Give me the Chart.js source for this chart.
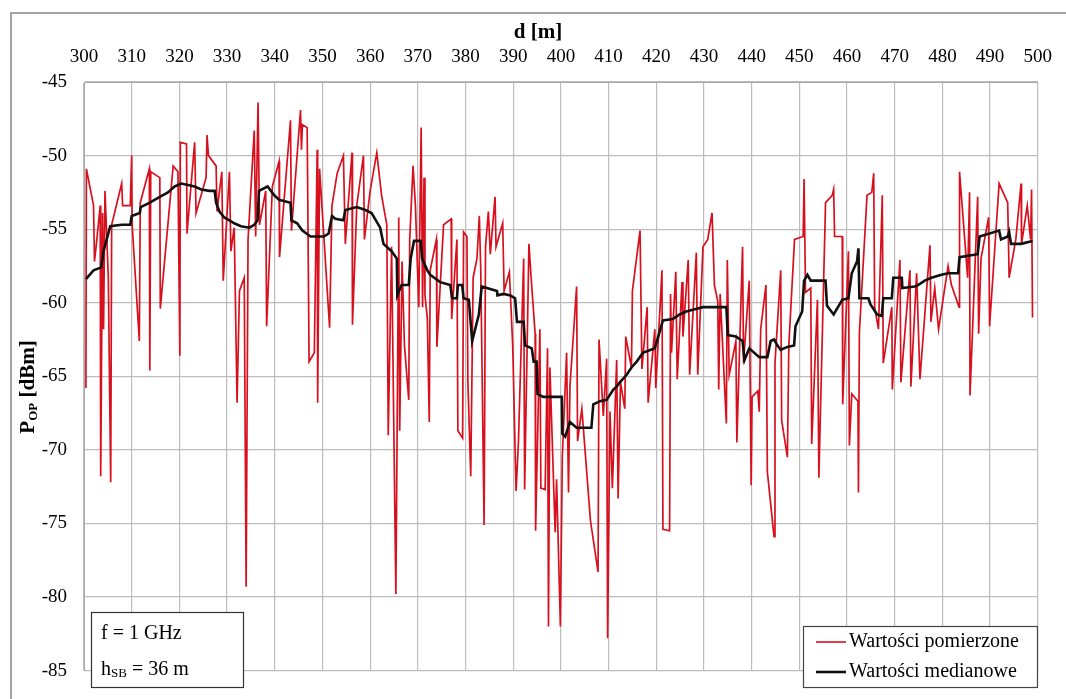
<!DOCTYPE html>
<html>
<head>
<meta charset="utf-8">
<script src="https://cdn.jsdelivr.net/npm/chart.js@4/dist/chart.umd.min.js"></script>
<style>
  html, body { margin: 0; padding: 0; background: #fff; }
  #wrap { position: relative; width: 1066px; height: 699px; overflow: hidden; }
  #frame { position: absolute; left: 10px; top: 12px; width: 1070px; height: 700px;
           border-left: 2px solid #a3a3a3; border-top: 2px solid #a3a3a3; }
  canvas { position: absolute; left: 0; top: 0; }
</style>
</head>
<body>
<div id="wrap">
  <div id="frame"></div>
  <canvas id="chart" width="1066" height="699"></canvas>
</div>
<script>
// measured values (distance d [m] / received power [dBm])
const measDist = [300.4,300.5,302.0,302.2,302.7,303.4,303.5,303.9,304.1,304.4,305.1,305.6,305.8,307.9,308.1,309.7,310.0,310.1,311.6,311.8,
  313.7,313.8,314.0,315.9,316.0,318.7,319.7,320.1,320.2,321.5,321.6,323.2,323.5,325.6,325.8,326.1,327.7,327.9,328.9,329.2,
  330.5,330.8,331.5,332.1,332.6,333.6,334.0,334.4,335.7,336.0,336.5,336.8,338.1,338.3,339.5,340.9,341.0,343.3,343.5,345.4,
  345.6,345.8,346.8,347.2,348.3,348.9,349.0,349.4,350.3,351.5,352.0,353.1,354.4,354.8,356.2,356.3,357.2,358.6,358.8,360.0,
  361.4,362.4,363.5,363.8,364.5,365.4,365.9,
  366.0,366.2,366.7,367.2,368.1,368.3,369.0,369.5,370.2,370.7,371.0,371.3,371.5,372.0,372.4,372.6,373.9,374.0,375.4,377.0,
  377.1,378.2,378.4,379.4,379.6,380.3,380.5,381.1,381.6,382.4,382.9,383.2,383.9,384.2,384.8,385.2,386.2,386.4,387.8,388.1,
  389.2,389.9,390.6,391.1,392.2,392.4,393.3,393.7,394.6,394.7,395.6,395.8,396.7,397.2,397.4,397.7,398.8,399.1,399.9,400.3,
  401.2,401.6,401.9,403.3,403.5,404.4,406.2,407.8,408.0,408.9,409.6,409.8,410.3,410.8,411.7,412.0,412.5,413.4,413.6,414.8,
  415.0,416.6,417.0,418.1,418.3,419.7,419.9,421.2,421.4,422.8,423.0,423.2,424.1,424.4,425.4,425.6,426.7,427.0,428.4,428.7,
  429.8,430.8,431.7,432.2,432.9,433.1,
  433.4,434.7,434.9,435.3,436.7,436.9,438.1,438.3,439.5,439.9,440.1,441.3,441.6,441.9,443.0,443.3,444.7,444.9,446.1,446.3,
  447.5,447.8,449.0,450.8,451.0,451.3,452.4,452.6,453.8,454.1,455.5,456.9,457.2,457.4,459.0,459.1,460.3,460.5,461.0,462.3,
  462.4,462.6,464.2,465.2,465.6,465.8,466.6,467.4,467.6,469.4,469.5,471.1,471.3,473.2,473.4,474.6,475.3,477.4,477.6,478.4,
  479.2,481.2,481.9,483.5,483.6,485.3,485.7,485.8,487.4,487.6,488.1,489.7,489.9,491.9,493.7,494.0,495.4,496.5,496.6,497.8,
  498.5,498.7,498.9];
const measPower = [-65.8,-50.9,-53.4,-57.2,-55.7,-53.4,-71.8,-53.9,-61.8,-52.4,-58.3,-72.2,-54.7,-51.9,-53.4,-53.4,-50.0,-54.7,-62.6,-53.2,
  -50.9,-64.6,-51.1,-51.5,-60.4,-50.7,-51.1,-63.6,-49.1,-49.2,-55.3,-49.1,-53.9,-51.5,-48.6,-50.0,-50.7,-53.8,-51.1,-58.5,
  -51.1,-56.5,-54.9,-66.8,-59.2,-58.3,-79.3,-55.7,-48.3,-55.5,-46.4,-54.7,-52.4,-61.6,-52.1,-50.4,-56.9,-47.6,-55.1,-46.9,
  -49.6,-47.9,-48.1,-64.0,-63.4,-49.6,-66.8,-50.9,-55.5,-61.7,-53.4,-51.2,-50.0,-56.0,-49.8,-61.5,-53.4,-50.0,-55.7,-52.4,
  -49.8,-52.7,-54.7,-69.0,-56.2,-79.8,-58.5,
  -54.2,-68.7,-57.2,-62.9,-66.6,-55.7,-50.7,-53.4,-60.3,-48.1,-60.3,-51.5,-59.5,-61.1,-68.1,-57.8,-55.7,-63.0,-54.7,-54.3,
  -61.1,-55.7,-68.7,-69.2,-55.2,-55.5,-65.4,-71.8,-58.3,-57.0,-54.1,-57.8,-75.1,-56.2,-53.8,-56.7,-52.8,-56.2,-54.6,-59.2,
  -57.9,-62.9,-72.8,-69.5,-57.0,-72.7,-56.0,-58.0,-62.1,-75.5,-61.8,-72.6,-72.7,-63.1,-82.0,-64.4,-75.6,-72.0,-82.0,-70.5,
  -63.4,-72.9,-65.7,-58.9,-69.4,-67.2,-74.8,-78.3,-62.5,-67.7,-63.8,-82.8,-67.4,-72.6,-63.9,-73.3,-65.4,-67.2,-62.3,-64.4,
  -59.2,-55.1,-64.5,-60.3,-66.8,-61.8,-65.8,-57.8,-75.4,-75.5,-59.4,-63.4,-57.9,-65.2,-58.6,-62.3,-57.1,-64.9,-56.6,-64.9,
  -56.2,-55.7,-53.9,-58.8,-59.9,-65.9,
  -59.4,-68.2,-57.1,-64.9,-62.6,-69.5,-56.2,-64.1,-58.5,-72.4,-66.4,-66.0,-67.4,-61.8,-58.8,-71.5,-75.9,-64.1,-57.8,-68.0,
  -70.5,-62.9,-55.7,-55.5,-51.6,-59.3,-59.0,-69.6,-59.8,-71.9,-53.2,-52.7,-52.3,-55.5,-55.5,-66.9,-56.5,-69.7,-66.2,-66.7,
  -72.9,-62.0,-52.7,-52.5,-51.2,-60.3,-61.8,-52.7,-64.1,-60.3,-65.9,-57.1,-65.4,-57.8,-65.7,-58.0,-65.2,-56.1,-61.3,-59.0,
  -61.8,-57.5,-58.8,-60.3,-51.1,-58.3,-52.5,-66.3,-52.8,-62.1,-57.0,-54.2,-61.6,-51.9,-53.2,-58.3,-55.7,-51.9,-56.0,-53.4,
  -55.7,-52.3,-61.0];

// median values
const medDist = [300.4,302.0,303.6,304.1,305.5,307.9,309.7,310.0,311.7,311.9,313.8,315.9,317.6,319.0,320.4,321.8,323.2,324.6,326.3,327.4,
  327.7,328.4,329.4,330.5,331.5,332.9,334.7,335.7,336.4,336.7,338.5,339.9,340.9,343.3,343.5,344.7,345.8,347.5,350.3,351.3,
  352.0,352.7,354.4,354.8,357.2,359.0,360.3,362.1,362.8,364.5,365.6,365.7,366.6,
  368.1,368.5,369.2,370.6,370.9,372.0,372.6,374.7,376.8,377.2,378.2,378.4,379.3,379.6,380.7,381.4,382.8,383.4,386.6,386.7,
  388.0,389.4,390.4,390.8,392.2,392.5,393.9,394.3,394.9,395.1,396.3,400.2,400.3,400.9,401.9,403.3,406.4,406.8,408.2,409.6,
  411.0,411.7,412.4,413.8,414.8,415.9,417.2,419.7,421.4,423.5,424.9,426.3,428.7,429.8,433.6,
  434.7,435.0,436.7,438.1,438.5,439.5,441.6,443.3,444.0,444.7,445.4,446.1,447.5,448.9,449.2,450.6,451.0,451.7,452.4,455.5,
  455.8,457.2,459.0,460.3,461.0,462.1,462.4,462.6,464.5,464.9,466.3,467.3,467.6,469.4,469.7,471.5,471.6,474.2,474.9,476.3,
  477.7,479.8,481.2,483.3,483.6,487.4,487.8,491.9,492.3,493.7,494.0,494.4,496.5,498.9];
const medPower = [-58.4,-57.8,-57.6,-56.5,-54.8,-54.7,-54.7,-54.1,-53.9,-53.5,-53.2,-52.8,-52.5,-52.1,-51.9,-52.0,-52.1,-52.3,-52.4,-52.4,
  -53.2,-53.8,-54.2,-54.4,-54.6,-54.8,-54.9,-54.7,-54.4,-52.4,-52.1,-52.7,-53.0,-53.2,-54.4,-54.6,-55.1,-55.5,-55.5,-55.3,
  -54.1,-54.3,-54.4,-53.7,-53.5,-53.7,-53.9,-54.9,-56.0,-56.5,-57.0,-59.5,-58.8,
  -58.8,-57.0,-55.8,-55.8,-57.0,-57.8,-58.1,-58.6,-58.8,-59.7,-59.7,-58.8,-58.8,-59.7,-59.8,-62.6,-60.8,-58.9,-59.2,-59.5,
  -59.4,-59.5,-59.7,-61.3,-61.3,-62.9,-63.1,-64.0,-64.0,-66.2,-66.4,-66.4,-68.9,-69.1,-68.1,-68.5,-68.5,-66.9,-66.7,-66.6,
  -65.9,-65.7,-65.4,-64.9,-64.4,-64.0,-63.4,-63.1,-61.2,-61.1,-60.8,-60.6,-60.4,-60.3,-60.3,
  -60.3,-62.2,-62.3,-62.6,-63.9,-63.1,-63.7,-63.7,-62.6,-62.5,-62.9,-63.2,-63.0,-62.9,-61.6,-60.6,-58.5,-58.1,-58.5,-58.5,
  -60.2,-60.8,-59.8,-59.7,-58.0,-57.2,-56.3,-59.7,-59.7,-60.1,-60.8,-60.9,-59.7,-59.7,-58.3,-58.3,-59.0,-58.9,-58.8,-58.5,
  -58.3,-58.1,-58.0,-58.0,-56.9,-56.7,-55.5,-55.1,-55.7,-55.5,-55.2,-56.0,-56.0,-55.8];

const seriesNames = ['Wartości pomierzone', 'Wartości medianowe'];
const infoLines = ['f = 1 GHz', 'h', 'SB', ' = 36 m'];

const SERIF = '"Liberation Serif", "Times New Roman", serif';
const RED = '#d8101e';

function toPoints(xs, ys) {
  return xs.map((x, i) => ({ x: x, y: ys[i] }));
}

// titles, info box and legend drawn on top of the plot
const overlay = {
  id: 'overlay',
  afterDraw(chart) {
    const ctx = chart.ctx;
    ctx.save();
    ctx.fillStyle = '#000';
    ctx.textBaseline = 'middle';

    // x title
    ctx.font = 'bold 21px ' + SERIF;
    ctx.textAlign = 'center';
    ctx.fillText('d [m]', 538, 33);

    // y title with subscript
    ctx.save();
    ctx.translate(29, 387);
    ctx.rotate(-Math.PI / 2);
    ctx.textAlign = 'left';
    const big = 'bold 21px ' + SERIF, small = 'bold 13px ' + SERIF;
    ctx.font = big; const wP = ctx.measureText('P').width;
    ctx.font = small; const wOP = ctx.measureText('OP').width;
    ctx.font = big; const wRest = ctx.measureText(' [dBm]').width;
    let x0 = -(wP + wOP + wRest) / 2;
    ctx.font = big; ctx.fillText('P', x0, 0);
    ctx.font = small; ctx.fillText('OP', x0 + wP, 5);
    ctx.font = big; ctx.fillText(' [dBm]', x0 + wP + wOP, 0);
    ctx.restore();

    // info box
    ctx.fillStyle = '#fff';
    ctx.fillRect(91.5, 612.5, 152, 75);
    ctx.strokeStyle = '#333';
    ctx.lineWidth = 1.2;
    ctx.strokeRect(91.5, 612.5, 152, 75);
    ctx.fillStyle = '#000';
    ctx.textAlign = 'left';
    ctx.font = '20px ' + SERIF;
    ctx.fillText(infoLines[0], 101, 634);
    const wh = ctx.measureText(infoLines[1]).width;
    ctx.fillText(infoLines[1], 101, 670);
    ctx.font = '13px ' + SERIF;
    const wsb = ctx.measureText(infoLines[2]).width;
    ctx.fillText(infoLines[2], 101 + wh, 674);
    ctx.font = '20px ' + SERIF;
    ctx.fillText(infoLines[3], 101 + wh + wsb, 670);

    // legend
    ctx.fillStyle = '#fff';
    ctx.fillRect(803.5, 626.5, 234, 61);
    ctx.strokeStyle = '#444';
    ctx.strokeRect(803.5, 626.5, 234, 61);
    const ds = chart.data.datasets;
    [642, 672].forEach((yy, i) => {
      ctx.strokeStyle = ds[i].borderColor;
      ctx.lineWidth = i === 0 ? 1.6 : 2.6;
      ctx.beginPath();
      ctx.moveTo(816, yy);
      ctx.lineTo(846, yy);
      ctx.stroke();
      ctx.fillStyle = '#000';
      ctx.font = '20px ' + SERIF;
      ctx.fillText(ds[i].label, 849, yy);
    });
    ctx.restore();
  }
};

new Chart(document.getElementById('chart'), {
  type: 'line',
  data: {
    datasets: [
      {
        label: seriesNames[0],
        data: toPoints(measDist, measPower),
        borderColor: RED,
        borderWidth: 1.7,
        pointRadius: 0,
        tension: 0,
        order: 2
      },
      {
        label: seriesNames[1],
        data: toPoints(medDist, medPower),
        borderColor: '#111',
        borderWidth: 2.6,
        pointRadius: 0,
        tension: 0,
        order: 1
      }
    ]
  },
  options: {
    responsive: false,
    animation: false,
    layout: { padding: { left: 0, top: 0, right: 23, bottom: 7 } },
    plugins: {
      legend: { display: false },
      tooltip: { enabled: false }
    },
    scales: {
      x: {
        type: 'linear',
        position: 'top',
        min: 300,
        max: 500,
        ticks: { stepSize: 10, color: '#000', font: { family: SERIF, size: 19 }, padding: 14, maxRotation: 0 },
        grid: { color: '#bdbdbd', lineWidth: 1.2, drawTicks: false },
        border: { color: '#a8a8a8' },
        afterFit: (s) => { s.height = 82; }
      },
      y: {
        min: -85,
        max: -45,
        ticks: { stepSize: 5, color: '#000', font: { family: SERIF, size: 19 }, padding: 17 },
        grid: { color: '#bdbdbd', lineWidth: 1.2, drawTicks: false },
        border: { color: '#a8a8a8' },
        afterFit: (s) => { s.width = 84; }
      }
    }
  },
  plugins: [overlay]
});
</script>
</body>
</html>
